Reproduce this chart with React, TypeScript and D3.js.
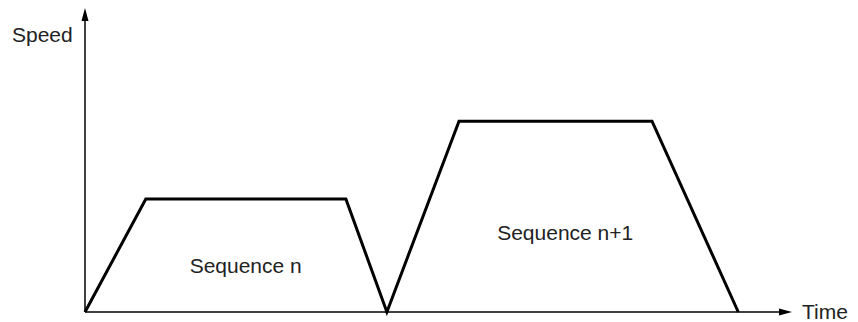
import React from "react";
import * as d3 from "d3";

const times = [0, 8.6, 36.9, 42.7, 52.9, 80.2, 92.4];
const speeds = [0, 37.4, 37.4, 0, 63.2, 63.2, 0];
const sequenceLabels = ["Sequence n", "Sequence n+1"];
const labelTimes = [14.8, 58.3];
const labelSpeeds = [13.0, 23.8];
const axisLabels = ["Speed", "Time"];

export default function App() {
  const W = 858, H = 322;
  const x = d3.scaleLinear().domain([0, 100]).range([85, 792]);
  const y = d3.scaleLinear().domain([0, 100]).range([312, 10]);
  const pts = times.map((t, i) => [x(t), y(speeds[i])] as [number, number]);
  const line = d3.line()(pts) || "";
  const x0 = x(0), y0 = y(0);
  const yTop = y(100) - 2, xEnd = x(100);
  const font = "'Liberation Sans', Arial, Helvetica, sans-serif";
  return (
    <svg width={W} height={H} style={{ position: "absolute", left: 0, top: 0, background: "#fff" }}>
      <line x1={x0} y1={y0} x2={x0} y2={yTop + 10} stroke="#000" strokeWidth={1.5} />
      <path d={`M${x0},${yTop} L${x0 - 3.5},${yTop + 13} L${x0 + 3.5},${yTop + 13} Z`} fill="#000" />
      <line x1={x0} y1={y0} x2={xEnd - 10} y2={y0} stroke="#000" strokeWidth={1.5} />
      <path d={`M${xEnd},${y0} L${xEnd - 13},${y0 - 3.5} L${xEnd - 13},${y0 + 3.5} Z`} fill="#000" />
      <path d={line} fill="none" stroke="#000" strokeWidth={3} strokeLinejoin="miter" />
      <text x={12} y={42} fontFamily={font} fontSize={21} fill="#222">{axisLabels[0]}</text>
      <text x={802} y={319} fontFamily={font} fontSize={21} fill="#222">{axisLabels[1]}</text>
      {sequenceLabels.map((s, i) => (
        <text key={s} x={x(labelTimes[i])} y={y(labelSpeeds[i])} fontFamily={font} fontSize={21} fill="#222">{s}</text>
      ))}
    </svg>
  );
}
